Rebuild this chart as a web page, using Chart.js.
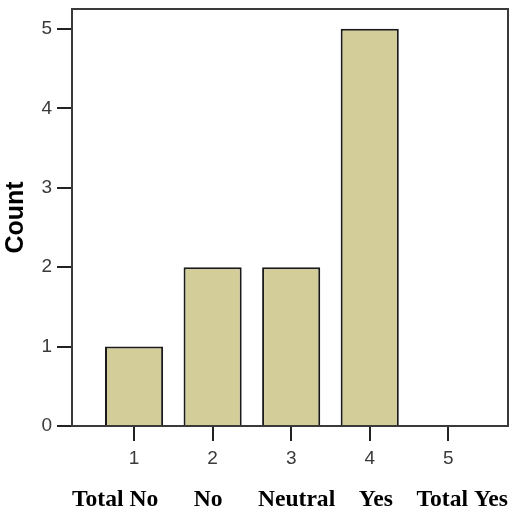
<!DOCTYPE html>
<html>
<head>
<meta charset="utf-8">
<script src="https://cdn.jsdelivr.net/npm/chart.js@4/dist/chart.umd.min.js"></script>
<style>
  html, body { margin: 0; padding: 0; background: #fff; }
  #box { width: 514px; height: 514px; }
</style>
</head>
<body>
<div id="box"><canvas id="grafico"></canvas></div>
<script>
// dados do gráfico
var categorias = [1, 2, 3, 4, 5];
var contagens = [1, 2, 2, 5, 0];
var ticksY = [0, 1, 2, 3, 4, 5];
var rotuloX = "Total No      No      Neutral    Yes    Total Yes";
var rotuloY = "Count";

var pontos = categorias.map(function (c, i) { return { x: c, y: contagens[i] }; });

// moldura em volta da área do gráfico
var moldura = {
  id: "moldura",
  afterDraw: function (chart) {
    var a = chart.chartArea, ctx = chart.ctx;
    ctx.save();
    ctx.strokeStyle = "#3a3a3a";
    ctx.lineWidth = 2;
    ctx.strokeRect(a.left, a.top, a.right - a.left, a.bottom - a.top);
    ctx.restore();
  }
};

var ctx = document.getElementById("grafico").getContext("2d");
var myChart = new Chart(ctx, {
  type: "bar",
  data: {
    datasets: [{
      data: pontos,
      backgroundColor: "#d3cd9a",
      borderColor: "#1a1a1a",
      borderWidth: 2,
      barPercentage: 0.74,
      categoryPercentage: 1
    }]
  },
  options: {
    responsive: true,
    maintainAspectRatio: false,
    animation: false,
    layout: { padding: { top: 9, right: 6, left: 0, bottom: 0 } },
    plugins: { legend: { display: false }, tooltip: { enabled: false } },
    scales: {
      x: {
        type: "linear",
        offset: false,
        min: 0.21,
        max: 5.76,
        afterBuildTicks: function (s) { s.ticks = categorias.map(function (v) { return { value: v }; }); },
        afterFit: function (s) { s.height = 88; s.paddingLeft = 0; s.paddingRight = 0; },
        grid: { offset: false, drawOnChartArea: false, tickLength: 15, color: "#222", lineWidth: 2 },
        border: { color: "#111", width: 2 },
        ticks: { color: "#3a3a3a", font: { family: "Liberation Sans", size: 19 }, padding: 6 },
        title: {
          display: true,
          text: rotuloX,
          color: "#000",
          font: { family: "Liberation Serif", size: 24, weight: "bold" },
          padding: { top: 0, bottom: 0 }
        }
      },
      y: {
        min: 0,
        max: 5.25,
        afterBuildTicks: function (s) { s.ticks = ticksY.map(function (v) { return { value: v }; }); },
        afterFit: function (s) { s.width = 72; s.paddingTop = 0; s.paddingBottom = 0; },
        grid: { drawOnChartArea: false, tickLength: 15, color: "#222", lineWidth: 2 },
        border: { color: "#111", width: 2 },
        ticks: { color: "#3a3a3a", font: { family: "Liberation Sans", size: 19 }, padding: 5 },
        title: {
          display: true,
          text: rotuloY,
          color: "#000",
          font: { family: "Liberation Sans", size: 25, weight: "bold" },
          padding: { top: 1, bottom: 0 }
        }
      }
    }
  },
  plugins: [moldura]
});
</script>
</body>
</html>
